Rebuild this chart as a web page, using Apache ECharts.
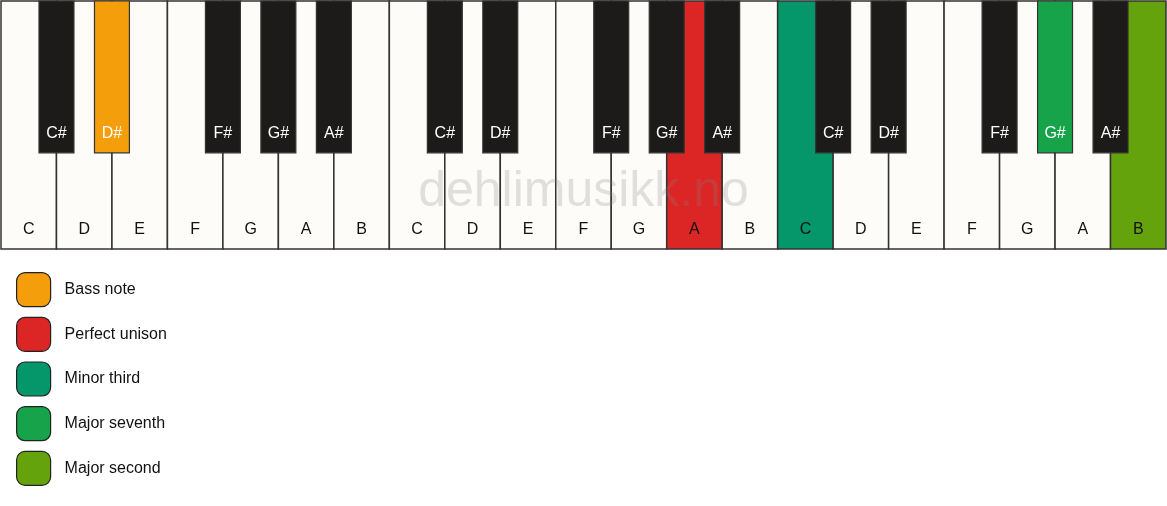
<!DOCTYPE html>
<html>
	<head>
		<meta charset="UTF-8">
		<title>Piano intervals</title>
		<style>
			html, body { margin: 0; padding: 0; background: #ffffff; }
			#piano { width: 1167px; height: 506px; }
		</style>
	</head>
	<body>
		<div id="piano"></div>
	</body>
	<script src="https://cdn.jsdelivr.net/npm/echarts@6/dist/echarts.min.js" type="text/javascript" charset="utf-8"></script>
	<script type="text/javascript">
		// white keys, 3 octaves
		var whiteLabels = ['C','D','E','F','G','A','B','C','D','E','F','G','A','B','C','D','E','F','G','A','B'];
		// black keys: label + boundary between white keys where they sit
		var blackLabels = ['C#','D#','F#','G#','A#','C#','D#','F#','G#','A#','C#','D#','F#','G#','A#'];
		var blackSlots = [1, 2, 4, 5, 6, 8, 9, 11, 12, 13, 15, 16, 18, 19, 20];

		// intervals (legend) and their colours
		var intervalNames = ['Bass note', 'Perfect unison', 'Minor third', 'Major seventh', 'Major second'];
		var intervalColors = ['#F59E0B', '#DC2626', '#059669', '#16A34A', '#65A30D'];
		// which key gets which interval: [white|black, key index, interval index]
		var marked = [
			['black', 1, 0],
			['white', 12, 1],
			['white', 14, 2],
			['black', 13, 3],
			['white', 20, 4]
		];

		var WHITE = '#FDFCF8';
		var BLACK = '#1C1B19';
		var EDGE = '#333333';
		var FONT = '"Liberation Sans", Arial, sans-serif';

		function keyColor(kind, idx) {
			for (var i = 0; i < marked.length; i++) {
				if (marked[i][0] === kind && marked[i][1] === idx) return intervalColors[marked[i][2]];
			}
			return kind === 'white' ? WHITE : BLACK;
		}

		var whiteData = whiteLabels.map(function (l, i) { return [i, l, keyColor('white', i)]; });
		var blackData = blackLabels.map(function (l, i) { return [blackSlots[i], l, keyColor('black', i)]; });

		var chart = echarts.init(document.getElementById('piano'));

		var BLACK_W = 0.63;   // in white-key units
		var BLACK_H = 0.612;  // share of keyboard height

		function renderWhite(params, api) {
			var x = api.value(0);
			var p = api.coord([x, 1]);
			var s = api.size([1, 1]);
			var fill = api.value(2);
			return {
				type: 'group',
				children: [{
					type: 'rect',
					shape: { x: p[0], y: p[1], width: s[0], height: s[1] },
					style: { fill: fill, stroke: EDGE, lineWidth: 1.5 }
				}, {
					type: 'text',
					style: {
						x: p[0] + s[0] / 2, y: p[1] + s[1] - 19,
						text: whiteLabels[x],
						fill: '#111111',
						font: '16px ' + FONT,
						align: 'center', verticalAlign: 'middle'
					}
				}]
			};
		}

		function renderBlack(params, api) {
			var slot = api.value(0);
			var p = api.coord([slot - BLACK_W / 2, 1]);
			var s = api.size([BLACK_W, BLACK_H]);
			var fill = api.value(2);
			return {
				type: 'group',
				children: [{
					type: 'rect',
					shape: { x: p[0], y: p[1], width: s[0], height: s[1] },
					style: { fill: fill, stroke: EDGE, lineWidth: 1.2 }
				}, {
					type: 'text',
					style: {
						x: p[0] + s[0] / 2, y: p[1] + s[1] - 19,
						text: blackLabels[params.dataIndex],
						fill: '#ffffff',
						font: '16px ' + FONT,
						align: 'center', verticalAlign: 'middle'
					}
				}]
			};
		}

		var series = [{
			type: 'custom',
			name: 'white keys',
			renderItem: renderWhite,
			data: whiteData,
			silent: true,
			z: 1
		}, {
			type: 'custom',
			name: 'black keys',
			renderItem: renderBlack,
			data: blackData,
			silent: true,
			z: 3
		}];

		// empty series only to feed the legend
		intervalNames.forEach(function (n, i) {
			series.push({ type: 'bar', name: n, data: [], color: intervalColors[i] });
		});

		var option = {
			animation: false,
			backgroundColor: '#ffffff',
			grid: { left: 1, right: 1, top: 1, height: 248 },
			xAxis: { type: 'value', min: 0, max: 21, show: false },
			yAxis: { type: 'value', min: 0, max: 1, show: false },
			legend: {
				data: intervalNames,
				orient: 'vertical',
				left: 16,
				top: 272,
				padding: 0,
				itemWidth: 34,
				itemHeight: 34,
				itemGap: 9.5,
				icon: 'roundRect',
				selectedMode: false,
				itemStyle: { borderColor: '#222222', borderWidth: 1.2 },
				textStyle: {
					fontSize: 16,
					color: '#111111',
					fontFamily: FONT,
					padding: [0, 0, 0, 9]
				}
			},
			graphic: [{
				type: 'text',
				left: 'center',
				top: 167,
				z: 100,
				silent: true,
				style: {
					text: 'dehlimusikk.no',
					fill: 'rgba(128,128,128,0.23)',
					font: '50px ' + FONT
				}
			}],
			series: series
		};

		chart.setOption(option);
	</script>
</html>
